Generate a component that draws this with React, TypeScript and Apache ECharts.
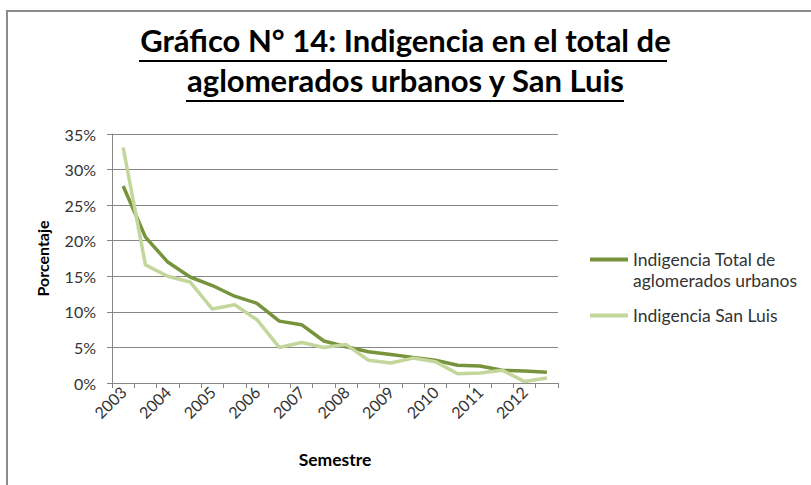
import React, { useEffect, useRef } from "react";
import * as echarts from "echarts";

const years = ["2003", "2004", "2005", "2006", "2007", "2008", "2009", "2010", "2011", "2012"];
const semesters = ["1", "2"];
const totalUrbano = [27.7, 20.5, 17.0, 14.9, 13.7, 12.2, 11.2, 8.7, 8.2, 5.9, 5.1, 4.4, 4.0, 3.6, 3.2, 2.5, 2.4, 1.8, 1.7, 1.5];
const sanLuis = [33.1, 16.6, 15.0, 14.2, 10.4, 11.0, 8.9, 5.0, 5.7, 5.0, 5.4, 3.2, 2.8, 3.5, 3.0, 1.3, 1.4, 1.8, 0.2, 0.7];
const yTicks = [0, 5, 10, 15, 20, 25, 30, 35];

const SERIES_TOTAL = "Indigencia Total de aglomerados urbanos";
const SERIES_SL = "Indigencia San Luis";
const FONT = "Lato, 'Open Sans', sans-serif";

export default function App() {
  const ref = useRef<HTMLDivElement>(null);
  useEffect(() => {
    document.body.style.margin = "0";
    if (!ref.current) return;
    const chart = echarts.init(ref.current, undefined, { renderer: "svg" });
    const categories: string[] = [];
    years.forEach((y) => semesters.forEach((s) => categories.push(y + "-" + s)));
    chart.setOption({
      animation: false,
      backgroundColor: "#ffffff",
      textStyle: { fontFamily: FONT },
      title: {
        text: "Gráfico N° 14: Indigencia en el total de\naglomerados urbanos y San Luis",
        left: "center",
        top: 20,
        padding: 0,
        textStyle: { fontFamily: FONT, fontWeight: "bold", fontSize: 31, lineHeight: 40, color: "#000" },
      },
      graphic: [
        { type: "rect", shape: { x: 7, y: 11, width: 820, height: 490 }, style: { fill: "none", stroke: "#8c8c8c", lineWidth: 2 }, silent: true },
        { type: "line", shape: { x1: 139, y1: 61, x2: 667, y2: 61 }, style: { stroke: "#000", lineWidth: 2 } },
        { type: "line", shape: { x1: 186, y1: 101, x2: 624, y2: 101 }, style: { stroke: "#000", lineWidth: 2 } },
      ],
      legend: {
        orient: "vertical",
        left: 590,
        top: 228,
        padding: 0,
        itemGap: 14,
        icon: "rect",
        itemWidth: 38,
        itemHeight: 4,
        data: [SERIES_TOTAL, SERIES_SL],
        formatter: (name: string) => (name === SERIES_TOTAL ? " \nIndigencia Total de\naglomerados urbanos" : name),
        textStyle: { fontFamily: FONT, fontSize: 17.5, lineHeight: 21, color: "#333" },
      },
      grid: { left: 112, top: 134, width: 446, height: 249, containLabel: false },
      xAxis: {
        type: "category",
        data: categories,
        boundaryGap: true,
        name: "Semestre",
        nameLocation: "middle",
        nameGap: 67,
        nameTextStyle: { fontFamily: FONT, fontWeight: "bold", fontSize: 17.5, color: "#000" },
        axisLine: { lineStyle: { color: "#868686", width: 1 } },
        axisTick: { show: true, interval: 0, length: 5, lineStyle: { color: "#868686" } },
        axisLabel: {
          interval: 1,
          rotate: 45,
          fontFamily: FONT,
          fontSize: 16,
          color: "#333",
          margin: 6,
          formatter: (v: string) => v.split("-")[0],
        },
      },
      yAxis: {
        type: "value",
        min: yTicks[0],
        max: yTicks[yTicks.length - 1],
        interval: 5,
        name: "Porcentaje",
        nameLocation: "middle",
        nameRotate: 90,
        nameGap: 62,
        nameTextStyle: { fontFamily: FONT, fontWeight: "bold", fontSize: 16, color: "#000" },
        axisLine: { show: true, lineStyle: { color: "#868686", width: 1 } },
        axisTick: { show: true, length: 5, lineStyle: { color: "#868686" } },
        splitLine: { show: true, lineStyle: { color: "#868686", width: 1 } },
        axisLabel: { formatter: "{value}%", fontFamily: FONT, fontSize: 16, color: "#333", margin: 16 },
      },
      series: [
        {
          name: SERIES_TOTAL,
          type: "line",
          data: totalUrbano,
          symbol: "none",
          itemStyle: { color: "#77933c" },
          lineStyle: { color: "#77933c", width: 3.5 },
        },
        {
          name: SERIES_SL,
          type: "line",
          data: sanLuis,
          symbol: "none",
          itemStyle: { color: "#c3d69b" },
          lineStyle: { color: "#c3d69b", width: 3.5 },
        },
      ],
    });
    return () => chart.dispose();
  }, []);
  return <div ref={ref} style={{ width: 811, height: 485 }} />;
}
